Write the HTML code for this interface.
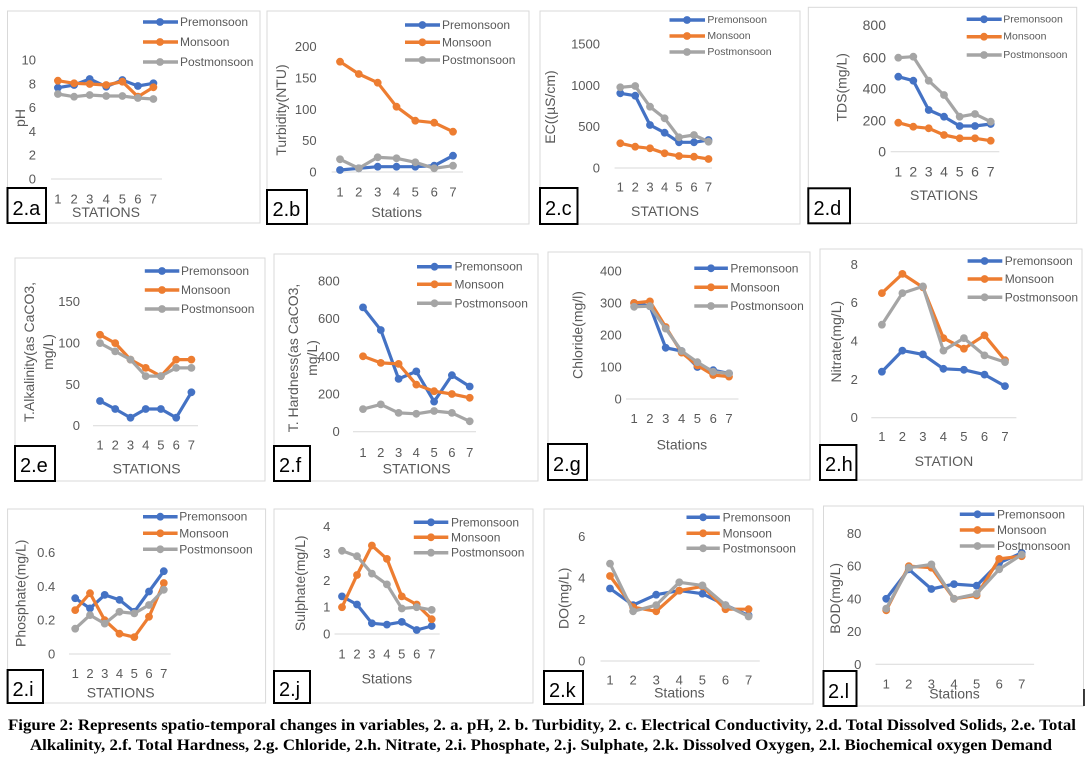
<!DOCTYPE html>
<html><head><meta charset="utf-8"><style>
html,body{margin:0;padding:0;background:#fff}
svg{display:block}
.t{font-family:"Liberation Sans",sans-serif;fill:#595959;dominant-baseline:central}
.tk{font-size:13px}
.tr{text-anchor:end}
.tm{text-anchor:middle}
.ti{font-size:14px;text-anchor:middle}
.lg{font-size:12px}
.lg2{font-size:10.5px}
.pb{fill:#fff;stroke:#d9d9d9;stroke-width:1}
.ax{stroke:#d9d9d9;stroke-width:1}
.s{fill:none;stroke-width:3.2;stroke-linejoin:round;stroke-linecap:round}
.b{stroke:#4472C4;marker:url(#mb)}
.o{stroke:#ED7D31;marker:url(#mo)}
.g{stroke:#A5A5A5;marker:url(#mg)}
.lb{stroke-width:3.5}
.lbox{fill:#fff;stroke:#000;stroke-width:2}
.ltx{font-family:"Liberation Sans",sans-serif;font-size:20px;fill:#000}
.cap{font-family:"Liberation Serif",serif;font-weight:bold;font-size:16px;fill:#000}
</style></head><body>
<svg width="1090" height="768" viewBox="0 0 1090 768" xmlns="http://www.w3.org/2000/svg">
<defs>
<marker id="mb" markerWidth="10" markerHeight="10" refX="5" refY="5" markerUnits="userSpaceOnUse"><circle cx="5" cy="5" r="3.9" fill="#4472C4"/></marker>
<marker id="mo" markerWidth="10" markerHeight="10" refX="5" refY="5" markerUnits="userSpaceOnUse"><circle cx="5" cy="5" r="3.9" fill="#ED7D31"/></marker>
<marker id="mg" markerWidth="10" markerHeight="10" refX="5" refY="5" markerUnits="userSpaceOnUse"><circle cx="5" cy="5" r="3.9" fill="#A5A5A5"/></marker>
</defs>
<rect width="1090" height="768" fill="#fff"/>

<!-- Panel a -->
<rect class="pb" x="7.5" y="11" width="252.5" height="212"/>
<line class="ax" x1="51" y1="179" x2="162" y2="179"/>
<g class="t tk tr">
<text x="36" y="179">0</text><text x="36" y="155.2">2</text><text x="36" y="131.4">4</text><text x="36" y="107.6">6</text><text x="36" y="83.8">8</text><text x="36" y="60">10</text>
</g>
<g class="t tk tm">
<text x="57.9" y="199">1</text><text x="74.1" y="199">2</text><text x="89.7" y="199">3</text><text x="106.2" y="199">4</text><text x="122.4" y="199">5</text><text x="137.9" y="199">6</text><text x="153.4" y="199">7</text>
</g>
<text class="t ti" x="106" y="212">STATIONS</text>
<text class="t ti" transform="translate(20,118) rotate(-90)">pH</text>
<polyline class="s b" points="57.9,87.7 74.1,85 89.7,79 106.2,86.7 122.4,80 137.9,86 153.4,83.3"/>
<polyline class="s o" points="57.9,80.7 74.1,83.3 89.7,84 106.2,85 122.4,81.7 137.9,96.7 153.4,87.3"/>
<polyline class="s g" points="57.9,94 74.1,96.7 89.7,95 106.2,96 122.4,96 137.9,98 153.4,99"/>
<line class="lb" stroke="#4472C4" x1="143" y1="22" x2="178" y2="22"/><circle cx="160" cy="22" r="3.9" fill="#4472C4"/>
<line class="lb" stroke="#ED7D31" x1="143" y1="42" x2="178" y2="42"/><circle cx="160" cy="42" r="3.9" fill="#ED7D31"/>
<line class="lb" stroke="#A5A5A5" x1="143" y1="62" x2="178" y2="62"/><circle cx="160" cy="62" r="3.9" fill="#A5A5A5"/>
<g class="t lg"><text x="180" y="22">Premonsoon</text><text x="180" y="42">Monsoon</text><text x="180" y="62">Postmonsoon</text></g>
<rect class="lbox" x="7.5" y="188" width="38.5" height="35"/><text class="ltx" x="12.5" y="215">2.a</text>

<!-- Panel b -->
<rect class="pb" x="267" y="11" width="262" height="213"/>
<line class="ax" x1="331.7" y1="172" x2="463" y2="172"/>
<g class="t tk tr">
<text x="316.6" y="172">0</text><text x="316.6" y="140.7">50</text><text x="316.6" y="109.3">100</text><text x="316.6" y="78">150</text><text x="316.6" y="46.7">200</text>
</g>
<g class="t tk tm">
<text x="340" y="192">1</text><text x="358.8" y="192">2</text><text x="377.7" y="192">3</text><text x="396.5" y="192">4</text><text x="415.3" y="192">5</text><text x="434.2" y="192">6</text><text x="453" y="192">7</text>
</g>
<text class="t ti" x="396.7" y="212">Stations</text>
<text class="t ti" transform="translate(281,110) rotate(-90)">Turbidity(NTU)</text>
<polyline class="s b" points="340,170 358.8,168.3 377.7,166.7 396.5,166.7 415.3,166.7 434.2,165.7 453,155.7"/>
<polyline class="s o" points="340,61.7 358.8,74 377.7,82.7 396.5,106.7 415.3,120.7 434.2,122.7 453,131.7"/>
<polyline class="s g" points="340,159.3 358.8,168.3 377.7,157.3 396.5,158.3 415.3,162.3 434.2,168.3 453,165.7"/>
<line class="lb" stroke="#4472C4" x1="405" y1="25" x2="440" y2="25"/><circle cx="422.4" cy="25" r="3.9" fill="#4472C4"/>
<line class="lb" stroke="#ED7D31" x1="405" y1="42.3" x2="440" y2="42.3"/><circle cx="422.4" cy="42.3" r="3.9" fill="#ED7D31"/>
<line class="lb" stroke="#A5A5A5" x1="405" y1="60" x2="440" y2="60"/><circle cx="422.4" cy="60" r="3.9" fill="#A5A5A5"/>
<g class="t lg"><text x="442" y="25">Premonsoon</text><text x="442" y="42.3">Monsoon</text><text x="442" y="60">Postmonsoon</text></g>
<rect class="lbox" x="267" y="190" width="40" height="34"/><text class="ltx" x="272.5" y="216">2.b</text>

<!-- Panel c -->
<rect class="pb" x="540" y="11" width="260" height="213"/>
<line class="ax" x1="614.6" y1="168" x2="712" y2="168"/>
<g class="t tk tr">
<text x="600" y="168">0</text><text x="600" y="126.7">500</text><text x="600" y="85.3">1000</text><text x="600" y="44">1500</text>
</g>
<g class="t tk tm">
<text x="620.3" y="187">1</text><text x="635.2" y="187">2</text><text x="650" y="187">3</text><text x="664.6" y="187">4</text><text x="679" y="187">5</text><text x="694" y="187">6</text><text x="708.5" y="187">7</text>
</g>
<text class="t ti" x="665" y="211">STATIONS</text>
<text class="t ti" transform="translate(550,107) rotate(-90)">EC((µS/cm)</text>
<polyline class="s b" points="620.3,93.3 635.2,95.7 650,125 664.6,132.7 679,142.3 694,142.3 708.5,140"/>
<polyline class="s o" points="620.3,143.3 635.2,146.7 650,148.3 664.6,153.3 679,156 694,156.7 708.5,159"/>
<polyline class="s g" points="620.3,87.3 635.2,86 650,106.7 664.6,118.3 679,137.3 694,135 708.5,141.7"/>
<line class="lb" stroke="#4472C4" x1="669.5" y1="20" x2="705" y2="20"/><circle cx="687" cy="20" r="3.9" fill="#4472C4"/>
<line class="lb" stroke="#ED7D31" x1="669.5" y1="36" x2="705" y2="36"/><circle cx="687" cy="36" r="3.9" fill="#ED7D31"/>
<line class="lb" stroke="#A5A5A5" x1="669.5" y1="52" x2="705" y2="52"/><circle cx="687" cy="52" r="3.9" fill="#A5A5A5"/>
<g class="t lg2"><text x="707.4" y="20">Premonsoon</text><text x="707.4" y="36">Monsoon</text><text x="707.4" y="52">Postmonsoon</text></g>
<rect class="lbox" x="540" y="188" width="37.5" height="36"/><text class="ltx" x="545" y="215">2.c</text>

<!-- Panel d -->
<rect class="pb" x="808.3" y="7.3" width="268.4" height="216"/>
<line class="ax" x1="890.7" y1="151.7" x2="999.3" y2="151.7"/>
<g class="t tr" style="font-size:14px">
<text x="886" y="151.7">0</text><text x="886" y="120.7">200</text><text x="886" y="88.3">400</text><text x="886" y="57.3">600</text><text x="886" y="25">800</text>
</g>
<g class="t tm" style="font-size:14px">
<text x="898.3" y="171.7">1</text><text x="913.3" y="171.7">2</text><text x="928.7" y="171.7">3</text><text x="944" y="171.7">4</text><text x="959.7" y="171.7">5</text><text x="975" y="171.7">6</text><text x="990.7" y="171.7">7</text>
</g>
<text class="t ti" x="944" y="195">STATIONS</text>
<text class="t ti" transform="translate(841.7,87.3) rotate(-90)">TDS(mg/L)</text>
<polyline class="s b" points="898.3,76.7 913.3,80.7 928.7,110 944,116.7 959.7,126 975,126 990.7,124"/>
<polyline class="s o" points="898.3,122.7 913.3,126.7 928.7,128.3 944,135 959.7,138.3 975,138.3 990.7,140.7"/>
<polyline class="s g" points="898.3,57.7 913.3,56.7 928.7,80.7 944,95 959.7,116.7 975,114 990.7,121.7"/>
<line class="lb" stroke="#4472C4" x1="966.7" y1="19.3" x2="1001.7" y2="19.3"/><circle cx="984" cy="19.3" r="3.9" fill="#4472C4"/>
<line class="lb" stroke="#ED7D31" x1="966.7" y1="36.7" x2="1001.7" y2="36.7"/><circle cx="984" cy="36.7" r="3.9" fill="#ED7D31"/>
<line class="lb" stroke="#A5A5A5" x1="966.7" y1="55" x2="1001.7" y2="55"/><circle cx="984" cy="55" r="3.9" fill="#A5A5A5"/>
<g class="t lg2"><text x="1003.3" y="19.3">Premonsoon</text><text x="1003.3" y="36.7">Monsoon</text><text x="1003.3" y="55">Postmonsoon</text></g>
<rect class="lbox" x="808.3" y="188.3" width="41.7" height="35"/><text class="ltx" x="813.5" y="215">2.d</text>

<!-- Panel e -->
<rect class="pb" x="15" y="258" width="250" height="223"/>
<line class="ax" x1="93" y1="425.7" x2="198" y2="425.7"/>
<g class="t tk tr">
<text x="80" y="425.7">0</text><text x="80" y="384.4">50</text><text x="80" y="343">100</text><text x="80" y="301.7">150</text>
</g>
<g class="t tk tm">
<text x="100" y="445">1</text><text x="115.2" y="445">2</text><text x="130.5" y="445">3</text><text x="145.7" y="445">4</text><text x="160.9" y="445">5</text><text x="176.2" y="445">6</text><text x="191.4" y="445">7</text>
</g>
<text class="t ti" x="146.6" y="468.3">STATIONS</text>
<text class="t ti" transform="translate(29,352) rotate(-90)">T.Alkalinity(as CaCO3,</text>
<text class="t ti" transform="translate(48,352) rotate(-90)">mg/L)</text>
<polyline class="s b" points="100,401 115.2,409 130.5,417.7 145.7,409 160.9,409 176.2,417.7 191.4,392.3"/>
<polyline class="s o" points="100,334.8 115.2,343.1 130.5,359.6 145.7,367.9 160.9,376.1 176.2,359.6 191.4,359.6"/>
<polyline class="s g" points="100,343.1 115.2,351.4 130.5,359.6 145.7,376.1 160.9,376.1 176.2,367.9 191.4,367.9"/>
<line class="lb" stroke="#4472C4" x1="144.8" y1="271" x2="179.3" y2="271"/><circle cx="162" cy="271" r="3.9" fill="#4472C4"/>
<line class="lb" stroke="#ED7D31" x1="144.8" y1="290" x2="179.3" y2="290"/><circle cx="162" cy="290" r="3.9" fill="#ED7D31"/>
<line class="lb" stroke="#A5A5A5" x1="144.8" y1="309" x2="179.3" y2="309"/><circle cx="162" cy="309" r="3.9" fill="#A5A5A5"/>
<g class="t lg"><text x="181" y="271">Premonsoon</text><text x="181" y="290">Monsoon</text><text x="181" y="309">Postmonsoon</text></g>
<rect class="lbox" x="15" y="446" width="40" height="35"/><text class="ltx" x="20" y="472">2.e</text>

<!-- Panel f -->
<rect class="pb" x="274" y="254" width="264" height="227"/>
<line class="ax" x1="353" y1="431.7" x2="476" y2="431.7"/>
<g class="t tk tr">
<text x="339.7" y="431.7">0</text><text x="339.7" y="394">200</text><text x="339.7" y="356.3">400</text><text x="339.7" y="318.7">600</text><text x="339.7" y="281">800</text>
</g>
<g class="t tk tm">
<text x="363" y="452.3">1</text><text x="380.8" y="452.3">2</text><text x="398.6" y="452.3">3</text><text x="416.3" y="452.3">4</text><text x="434.1" y="452.3">5</text><text x="451.9" y="452.3">6</text><text x="469.7" y="452.3">7</text>
</g>
<text class="t ti" x="416.6" y="468.3">STATIONS</text>
<text class="t ti" transform="translate(293,358) rotate(-90)">T. Hardness(as CaCO3,</text>
<text class="t ti" transform="translate(312,358) rotate(-90)">mg/L)</text>
<polyline class="s b" points="363,307.4 380.8,330 398.6,378.9 416.3,371.4 434.1,401.6 451.9,375.2 469.7,386.5"/>
<polyline class="s o" points="363,356.3 380.8,362.9 398.6,363.9 416.3,384.6 434.1,391.2 451.9,394 469.7,397.8"/>
<polyline class="s g" points="363,409.1 380.8,404.4 398.6,412.9 416.3,413.8 434.1,411 451.9,412.9 469.7,421.3"/>
<line class="lb" stroke="#4472C4" x1="417" y1="266.7" x2="451.7" y2="266.7"/><circle cx="434.5" cy="266.7" r="3.9" fill="#4472C4"/>
<line class="lb" stroke="#ED7D31" x1="417" y1="284.3" x2="451.7" y2="284.3"/><circle cx="434.5" cy="284.3" r="3.9" fill="#ED7D31"/>
<line class="lb" stroke="#A5A5A5" x1="417" y1="303.3" x2="451.7" y2="303.3"/><circle cx="434.5" cy="303.3" r="3.9" fill="#A5A5A5"/>
<g class="t lg"><text x="454.5" y="266.7">Premonsoon</text><text x="454.5" y="284.3">Monsoon</text><text x="454.5" y="303.3">Postmonsoon</text></g>
<rect class="lbox" x="274" y="446" width="36" height="35"/><text class="ltx" x="279" y="472">2.f</text>

<!-- Panel g -->
<rect class="pb" x="548" y="252" width="262" height="228"/>
<line class="ax" x1="626" y1="399" x2="738.5" y2="399"/>
<g class="t tk tr">
<text x="621.7" y="399">0</text><text x="621.7" y="367">100</text><text x="621.7" y="335">200</text><text x="621.7" y="303">300</text><text x="621.7" y="271">400</text>
</g>
<g class="t tk tm">
<text x="634.1" y="418.3">1</text><text x="649.9" y="418.3">2</text><text x="665.7" y="418.3">3</text><text x="681.6" y="418.3">4</text><text x="697.4" y="418.3">5</text><text x="713.2" y="418.3">6</text><text x="729" y="418.3">7</text>
</g>
<text class="t ti" x="681.9" y="444.3">Stations</text>
<text class="t ti" transform="translate(577.5,335) rotate(-90)">Chloride(mg/l)</text>
<polyline class="s b" points="634.1,303 649.9,306.2 665.7,347.8 681.6,351 697.4,367 713.2,370.2 729,373.4"/>
<polyline class="s o" points="634.1,303 649.9,301.4 665.7,327 681.6,352.6 697.4,365.4 713.2,375 729,376.6"/>
<polyline class="s g" points="634.1,306.8 649.9,306.2 665.7,328.6 681.6,351 697.4,362.2 713.2,371.8 729,373.4"/>
<line class="lb" stroke="#4472C4" x1="694.3" y1="268.3" x2="727.9" y2="268.3"/><circle cx="711" cy="268.3" r="3.9" fill="#4472C4"/>
<line class="lb" stroke="#ED7D31" x1="694.3" y1="287.3" x2="727.9" y2="287.3"/><circle cx="711" cy="287.3" r="3.9" fill="#ED7D31"/>
<line class="lb" stroke="#A5A5A5" x1="694.3" y1="306" x2="727.9" y2="306"/><circle cx="711" cy="306" r="3.9" fill="#A5A5A5"/>
<g class="t lg"><text x="730.4" y="268.3">Premonsoon</text><text x="730.4" y="287.3">Monsoon</text><text x="730.4" y="306">Postmonsoon</text></g>
<rect class="lbox" x="548" y="444" width="39" height="36"/><text class="ltx" x="553" y="471">2.g</text>

<!-- Panel h -->
<rect class="pb" x="820" y="249" width="262" height="231"/>
<line class="ax" x1="871.3" y1="417.7" x2="1016.4" y2="417.7"/>
<g class="t tk tr">
<text x="857.8" y="417.7">0</text><text x="857.8" y="379.4">2</text><text x="857.8" y="341">4</text><text x="857.8" y="302.7">6</text><text x="857.8" y="264.3">8</text>
</g>
<g class="t tk tm">
<text x="881.9" y="436.7">1</text><text x="902.4" y="436.7">2</text><text x="922.9" y="436.7">3</text><text x="943.4" y="436.7">4</text><text x="963.9" y="436.7">5</text><text x="984.5" y="436.7">6</text><text x="1005" y="436.7">7</text>
</g>
<text class="t ti" x="943.9" y="461">STATION</text>
<text class="t ti" transform="translate(836,341.7) rotate(-90)">Nitrate(mg/L)</text>
<polyline class="s b" points="881.9,371.7 902.4,350.6 922.9,354.4 943.4,368.8 963.9,369.8 984.5,374.6 1005,386.1"/>
<polyline class="s o" points="881.9,293.1 902.4,273.9 922.9,287.3 943.4,338.1 963.9,348.7 984.5,335.3 1005,360.2"/>
<polyline class="s g" points="881.9,324.7 902.4,293.1 922.9,286.4 943.4,350.6 963.9,338.1 984.5,355.4 1005,362.1"/>
<line class="lb" stroke="#4472C4" x1="967.6" y1="261" x2="1002.3" y2="261"/><circle cx="984.6" cy="261" r="3.9" fill="#4472C4"/>
<line class="lb" stroke="#ED7D31" x1="967.6" y1="279" x2="1002.3" y2="279"/><circle cx="984.6" cy="279" r="3.9" fill="#ED7D31"/>
<line class="lb" stroke="#A5A5A5" x1="967.6" y1="297.3" x2="1002.3" y2="297.3"/><circle cx="984.6" cy="297.3" r="3.9" fill="#A5A5A5"/>
<g class="t lg"><text x="1004.7" y="261">Premonsoon</text><text x="1004.7" y="279">Monsoon</text><text x="1004.7" y="297.3">Postmonsoon</text></g>
<rect class="lbox" x="820" y="445" width="36.4" height="35"/><text class="ltx" x="825" y="471">2.h</text>

<!-- Panel i -->
<rect class="pb" x="7.6" y="509" width="258" height="194"/>
<line class="ax" x1="69" y1="654" x2="170.7" y2="654"/>
<g class="t tk tr">
<text x="55.2" y="654">0</text><text x="55.2" y="620.2">0.2</text><text x="55.2" y="586.4">0.4</text><text x="55.2" y="552.7">0.6</text>
</g>
<g class="t tk tm">
<text x="75.2" y="673.3">1</text><text x="90" y="673.3">2</text><text x="104.7" y="673.3">3</text><text x="119.5" y="673.3">4</text><text x="134.3" y="673.3">5</text><text x="149" y="673.3">6</text><text x="163.8" y="673.3">7</text>
</g>
<text class="t ti" x="120.7" y="692.7">STATIONS</text>
<text class="t ti" transform="translate(20.7,593.3) rotate(-90)">Phosphate(mg/L)</text>
<polyline class="s b" points="75.2,598.2 90,608.4 104.7,594.9 119.5,599.9 134.3,611.8 149,591.5 163.8,571.2"/>
<polyline class="s o" points="75.2,610.1 90,593.2 104.7,620.2 119.5,633.7 134.3,637.1 149,616.8 163.8,583"/>
<polyline class="s g" points="75.2,628.7 90,615.1 104.7,623.6 119.5,611.8 134.3,613.4 149,605 163.8,589.8"/>
<line class="lb" stroke="#4472C4" x1="143" y1="516.7" x2="177.6" y2="516.7"/><circle cx="160.3" cy="516.7" r="3.9" fill="#4472C4"/>
<line class="lb" stroke="#ED7D31" x1="143" y1="533.3" x2="177.6" y2="533.3"/><circle cx="160.3" cy="533.3" r="3.9" fill="#ED7D31"/>
<line class="lb" stroke="#A5A5A5" x1="143" y1="549.3" x2="177.6" y2="549.3"/><circle cx="160.3" cy="549.3" r="3.9" fill="#A5A5A5"/>
<g class="t lg"><text x="179.3" y="516.7">Premonsoon</text><text x="179.3" y="533.3">Monsoon</text><text x="179.3" y="549.3">Postmonsoon</text></g>
<rect class="lbox" x="7.6" y="670" width="35.4" height="33"/><text class="ltx" x="12.5" y="696">2.i</text>

<!-- Panel j -->
<rect class="pb" x="274" y="509" width="259" height="194"/>
<line class="ax" x1="334.5" y1="634" x2="439.7" y2="634"/>
<g class="t tk tr">
<text x="330.3" y="634">0</text><text x="330.3" y="607.2">1</text><text x="330.3" y="580.3">2</text><text x="330.3" y="553.5">3</text><text x="330.3" y="526.7">4</text>
</g>
<g class="t tk tm">
<text x="342" y="654">1</text><text x="357" y="654">2</text><text x="371.9" y="654">3</text><text x="386.9" y="654">4</text><text x="401.8" y="654">5</text><text x="416.7" y="654">6</text><text x="431.7" y="654">7</text>
</g>
<text class="t ti" x="386.9" y="678.3">Stations</text>
<text class="t ti" transform="translate(300,583.3) rotate(-90)">Sulphate(mg/L)</text>
<polyline class="s b" points="342,596.4 357,604.5 371.9,623.3 386.9,624.6 401.8,621.9 416.7,630 431.7,626"/>
<polyline class="s o" points="342,607.2 357,575 371.9,545.5 386.9,558.9 401.8,596.4 416.7,604.5 431.7,619.2"/>
<polyline class="s g" points="342,550.8 357,556.2 371.9,573.6 386.9,584.4 401.8,608.5 416.7,607.2 431.7,609.9"/>
<line class="lb" stroke="#4472C4" x1="413.8" y1="522.3" x2="448.3" y2="522.3"/><circle cx="431" cy="522.3" r="3.9" fill="#4472C4"/>
<line class="lb" stroke="#ED7D31" x1="413.8" y1="537.3" x2="448.3" y2="537.3"/><circle cx="431" cy="537.3" r="3.9" fill="#ED7D31"/>
<line class="lb" stroke="#A5A5A5" x1="413.8" y1="552.7" x2="448.3" y2="552.7"/><circle cx="431" cy="552.7" r="3.9" fill="#A5A5A5"/>
<g class="t lg"><text x="451" y="522.3">Premonsoon</text><text x="451" y="537.3">Monsoon</text><text x="451" y="552.7">Postmonsoon</text></g>
<rect class="lbox" x="274" y="671" width="36" height="32"/><text class="ltx" x="279" y="696">2.j</text>

<!-- Panel k -->
<rect class="pb" x="544" y="509" width="269" height="195"/>
<line class="ax" x1="600.5" y1="661" x2="759.8" y2="661"/>
<g class="t tk tr">
<text x="585.3" y="661">0</text><text x="585.3" y="619.6">2</text><text x="585.3" y="578.1">4</text><text x="585.3" y="536.7">6</text>
</g>
<g class="t tk tm">
<text x="610" y="680">1</text><text x="633.1" y="680">2</text><text x="656.2" y="680">3</text><text x="679.3" y="680">4</text><text x="702.4" y="680">5</text><text x="725.5" y="680">6</text><text x="748.6" y="680">7</text>
</g>
<text class="t ti" x="679.4" y="692.7">Stations</text>
<text class="t ti" transform="translate(563.3,598.3) rotate(-90)">DO(mg/L)</text>
<polyline class="s b" points="610,588.5 633.1,605.1 656.2,594.7 679.3,590.6 702.4,593.7 725.5,605.1 748.6,615.4"/>
<polyline class="s o" points="610,576 633.1,607.1 656.2,611.3 679.3,590.6 702.4,586.4 725.5,609.2 748.6,609.2"/>
<polyline class="s g" points="610,563.6 633.1,611.3 656.2,605.1 679.3,582.3 702.4,585.4 725.5,605.1 748.6,616.5"/>
<line class="lb" stroke="#4472C4" x1="686.5" y1="517.3" x2="719.8" y2="517.3"/><circle cx="703.1" cy="517.3" r="3.9" fill="#4472C4"/>
<line class="lb" stroke="#ED7D31" x1="686.5" y1="533.3" x2="719.8" y2="533.3"/><circle cx="703.1" cy="533.3" r="3.9" fill="#ED7D31"/>
<line class="lb" stroke="#A5A5A5" x1="686.5" y1="548.3" x2="719.8" y2="548.3"/><circle cx="703.1" cy="548.3" r="3.9" fill="#A5A5A5"/>
<g class="t lg"><text x="722.6" y="517.3">Premonsoon</text><text x="722.6" y="533.3">Monsoon</text><text x="722.6" y="548.3">Postmonsoon</text></g>
<rect class="lbox" x="544" y="671" width="39" height="33"/><text class="ltx" x="549" y="697">2.k</text>

<!-- Panel l -->
<rect class="pb" x="823.5" y="506" width="260" height="200"/>
<line class="ax" x1="875.5" y1="664.3" x2="1034.1" y2="664.3"/>
<g class="t tk tr">
<text x="861.4" y="664.3">0</text><text x="861.4" y="631.6">20</text><text x="861.4" y="598.8">40</text><text x="861.4" y="566">60</text><text x="861.4" y="533.3">80</text>
</g>
<g class="t tk tm">
<text x="886.2" y="684">1</text><text x="908.8" y="684">2</text><text x="931.4" y="684">3</text><text x="954" y="684">4</text><text x="976.6" y="684">5</text><text x="999.2" y="684">6</text><text x="1021.7" y="684">7</text>
</g>
<text class="t ti" x="954.5" y="693.3">Stations</text>
<text class="t ti" transform="translate(835.2,598.3) rotate(-90)">BOD(mg/L)</text>
<polyline class="s b" points="886.2,598.8 908.8,569.3 931.4,589 954,584.1 976.6,585.7 999.2,562.8 1021.7,552.9"/>
<polyline class="s o" points="886.2,610.3 908.8,566.1 931.4,567.7 954,598.8 976.6,595.5 999.2,558.9 1021.7,556.2"/>
<polyline class="s g" points="886.2,608.6 908.8,567.7 931.4,564.4 954,598.8 976.6,593.9 999.2,569.3 1021.7,554.6"/>
<line class="lb" stroke="#4472C4" x1="959.8" y1="514.3" x2="994.5" y2="514.3"/><circle cx="977.5" cy="514.3" r="3.9" fill="#4472C4"/>
<line class="lb" stroke="#ED7D31" x1="959.8" y1="530" x2="994.5" y2="530"/><circle cx="977.5" cy="530" r="3.9" fill="#ED7D31"/>
<line class="lb" stroke="#A5A5A5" x1="959.8" y1="546" x2="994.5" y2="546"/><circle cx="977.5" cy="546" r="3.9" fill="#A5A5A5"/>
<g class="t lg"><text x="997" y="514.3">Premonsoon</text><text x="997" y="530">Monsoon</text><text x="997" y="546">Postmonsoon</text></g>
<rect class="lbox" x="823.5" y="671" width="33" height="35"/><text class="ltx" x="828" y="698">2.l</text>
<line x1="1084" y1="689" x2="1084" y2="706" stroke="#000" stroke-width="1.5"/>

<!-- Caption -->
<text class="cap" x="8" y="730" textLength="1068" lengthAdjust="spacingAndGlyphs">Figure 2: Represents spatio-temporal changes in variables, 2. a. pH, 2. b. Turbidity, 2. c. Electrical Conductivity, 2.d. Total Dissolved Solids, 2.e. Total</text>
<text class="cap" x="30" y="750" textLength="1022" lengthAdjust="spacingAndGlyphs">Alkalinity, 2.f. Total Hardness, 2.g. Chloride, 2.h. Nitrate, 2.i. Phosphate, 2.j. Sulphate, 2.k. Dissolved Oxygen, 2.l. Biochemical oxygen Demand</text>
</svg>
</body></html>
